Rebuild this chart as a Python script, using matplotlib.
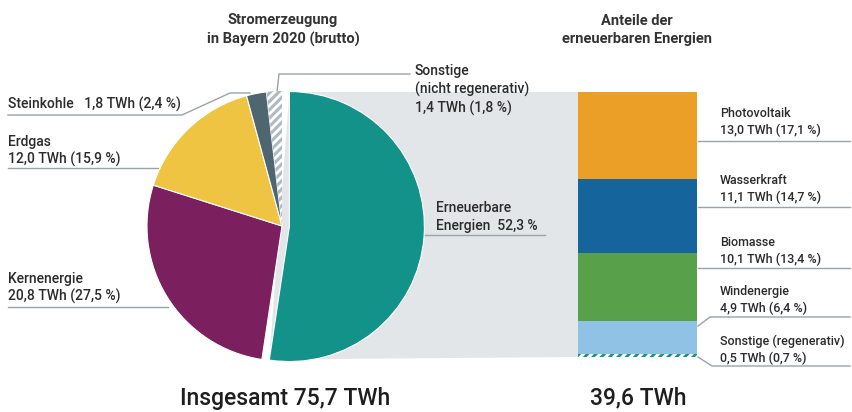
import numpy as np
import matplotlib
matplotlib.use("Agg")
import matplotlib.pyplot as plt
from matplotlib.patches import Polygon

plt.rcParams['font.family'] = ['Roboto', 'DejaVu Sans']
plt.rcParams['hatch.linewidth'] = 2.0

# data
pie_labels = ["Erneuerbare\nEnergien  52,3 %", "Kernenergie\n20,8 TWh (27,5 %)",
              "Erdgas\n12,0 TWh (15,9 %)", "Steinkohle   1,8 TWh (2,4 %)",
              "Sonstige\n(nicht regenerativ)\n1,4 TWh (1,8 %)"]
pie_values = [39.6, 20.8, 12.0, 1.8, 1.4]
pie_colors = ["#13928a", "#7b1f5e", "#efc443", "#4f6671", "#aebbc4"]

bar_labels = ["Sonstige (regenerativ)\n0,5 TWh (0,7 %)", "Windenergie\n4,9 TWh (6,4 %)",
              "Biomasse\n10,1 TWh (13,4 %)", "Wasserkraft\n11,1 TWh (14,7 %)",
              "Photovoltaik\n13,0 TWh (17,1 %)"]
bar_values = [0.5, 4.9, 10.1, 11.1, 13.0]
bar_colors = ["white", "#8fc2e4", "#58a04a", "#15649b", "#ec9f27"]

W, H = 853, 412
TXT = "#2b2b2b"
LINE = "#9aa3a8"

fig = plt.figure(figsize=(W / 100, H / 100), dpi=100)

# overlay axes in pixel coordinates (y down)
ov = fig.add_axes([0, 0, 1, 1])
ov.set_xlim(0, W)
ov.set_ylim(H, 0)
ov.axis('off')

# pie
cx, cy, r = 282, 226, 135
half = 150
pax = fig.add_axes([(cx - half) / W, (H - cy - half) / H, 2 * half / W, 2 * half / H])
wedges, _ = pax.pie(pie_values, colors=pie_colors, startangle=90, counterclock=False,
                    explode=[0.055, 0, 0, 0, 0], radius=1, frame=True,
                    wedgeprops=dict(edgecolor="white", linewidth=0.8))
wedges[4].set_hatch("////")
wedges[4].set_edgecolor("white")
wedges[4].set_linewidth(0)
pax.set_xlim(-half / r, half / r)
pax.set_ylim(-half / r, half / r)
pax.axis('off')
pax.set_zorder(2)

# bar
bx0, bx1, by0, by1 = 578, 697, 92, 357
bax = fig.add_axes([bx0 / W, (H - by1) / H, (bx1 - bx0) / W, (by1 - by0) / H])
bottom = 0
for v, c in zip(bar_values, bar_colors):
    p = bax.bar(0, v, width=1, bottom=bottom, color=c, linewidth=0)
    if c == "white":
        p[0].set_hatch("////")
        p[0].set_edgecolor("#13928a")
    bottom += v
bax.set_xlim(-0.5, 0.5)
bax.set_ylim(0, sum(bar_values))
bax.axis('off')
bax.set_zorder(2)

# grey connector between renewable slice and bar
shift = 0.055 * r
ang_end = np.deg2rad(90 - 360 * pie_values[0] / sum(pie_values))
bot_x = cx + shift * np.cos(np.deg2rad(90 - 180 * pie_values[0] / sum(pie_values))) + r * np.cos(ang_end)
conn = Polygon([(cx + shift, by0), (bx0, by0), (bx0, by1), (bot_x, cy - r * np.sin(ang_end))],
               closed=True, facecolor="#e3e6e8", edgecolor="none", zorder=0)
ov.add_patch(conn)

kw_pie = dict(fontsize=10, color=TXT, va='center', fontweight='medium', linespacing=1.3)
kw_bar = dict(fontsize=9, color=TXT, va='center', fontweight='medium', linespacing=1.45)

# pie labels
ov.text(8, 104, pie_labels[3], **kw_pie)
ov.plot([8, 182, 230, 250], [115, 115, 93, 93], color=LINE, lw=1)
ov.text(8, 151, pie_labels[2], **kw_pie)
ov.plot([8, 158], [168, 168], color=LINE, lw=1)
ov.text(8, 288, pie_labels[1], **kw_pie)
ov.plot([8, 168], [307, 307], color=LINE, lw=1)
ov.text(415, 90, pie_labels[4], **kw_pie)
ov.plot([277, 279, 410], [92, 74, 74], color=LINE, lw=1)
ov.text(436, 217, pie_labels[0], **kw_pie)
ov.plot([420, 545], [235, 235], color=LINE, lw=1)

# bar labels
lx = 720
ov.text(lx, 122, bar_labels[4], **kw_bar)
ov.plot([698, 850], [141, 141], color=LINE, lw=1)
ov.text(lx, 189, bar_labels[3], **kw_bar)
ov.plot([698, 850], [207, 207], color=LINE, lw=1)
ov.text(lx, 251, bar_labels[2], **kw_bar)
ov.plot([698, 850], [268, 268], color=LINE, lw=1)
ov.text(lx, 300, bar_labels[1], **kw_bar)
ov.plot([698, 710, 850], [326, 317, 317], color=LINE, lw=1)
ov.text(lx, 350, bar_labels[0], fontsize=9, color=TXT, va='center', fontweight='medium',
        linespacing=1.3)
ov.plot([698, 712, 850], [357, 366, 366], color=LINE, lw=1)

# titles
ov.text(283, 30, "Stromerzeugung\nin Bayern 2020 (brutto)", fontsize=10.5, fontweight='bold',
        color="#333333", ha='center', va='center', linespacing=1.35)
ov.text(637, 30, "Anteile der\nerneuerbaren Energien", fontsize=10.5, fontweight='bold',
        color="#333333", ha='center', va='center', linespacing=1.35)
ov.text(285, 398, "Insgesamt 75,7 TWh", fontsize=16.5, fontweight='medium', color="#1e1e1e",
        ha='center', va='center')
ov.text(638, 398, "39,6 TWh", fontsize=16.5, fontweight='medium', color="#1e1e1e",
        ha='center', va='center')

fig.savefig("out.png", dpi=100)
